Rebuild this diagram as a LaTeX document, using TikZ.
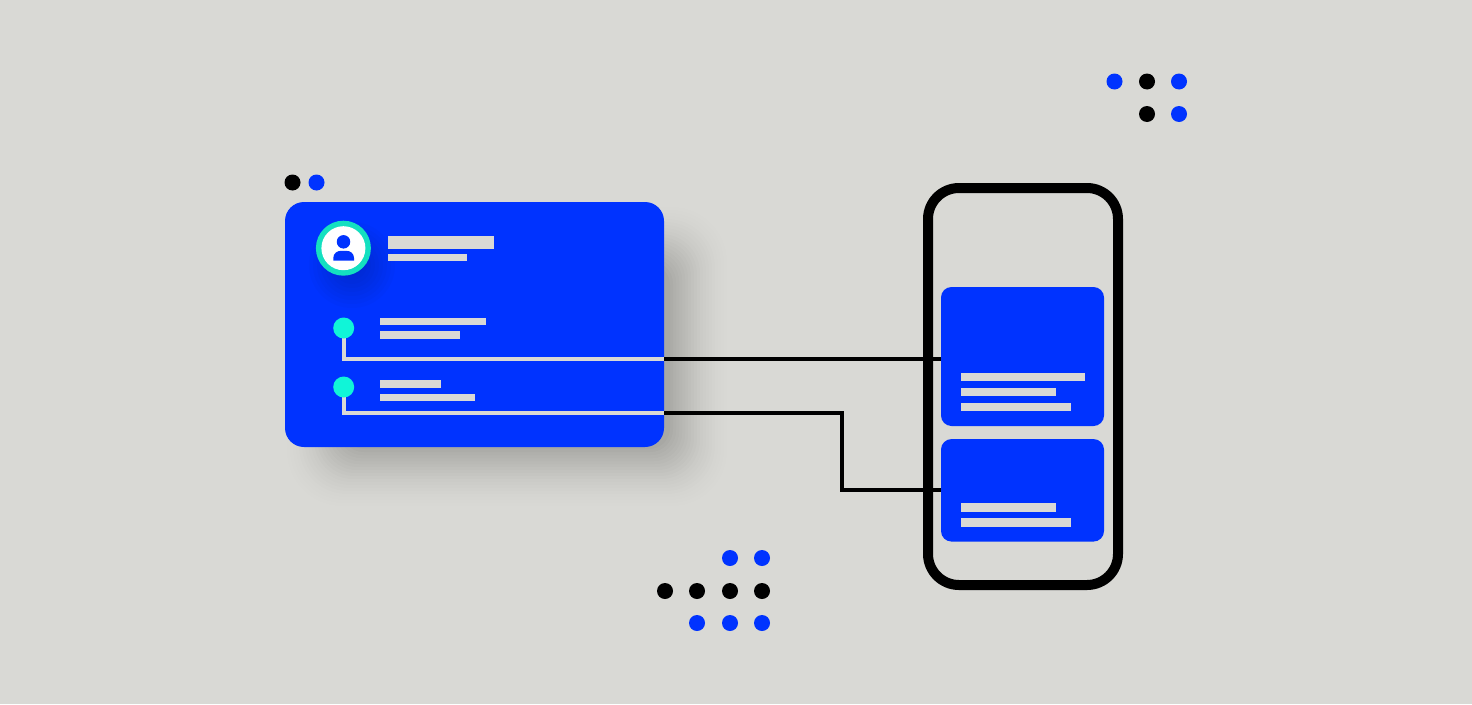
\documentclass[tikz,border=0pt]{standalone}
\usetikzlibrary{positioning}
\definecolor{paper}{HTML}{D9D9D5}
\definecolor{cardblue}{HTML}{0033FF}
\definecolor{mint}{HTML}{10F5D8}
\definecolor{ring}{HTML}{14E0C0}
\tikzset{
  panel/.style={rectangle,fill=cardblue,rounded corners=10.5pt,inner sep=0pt},
  bar/.style={rectangle,fill=paper,inner sep=0pt,anchor=north west},
  spot/.style={circle,inner sep=0pt,minimum size=16pt},
  bluespot/.style={spot,fill=cardblue},
  blackspot/.style={spot,fill=black},
  pin/.style={circle,fill=mint,inner sep=0pt,minimum size=21pt},
  lead/.style={draw=paper,line width=4pt},
  wire/.style={draw=black,line width=4.2pt},
}
\begin{document}
\begin{tikzpicture}[x=1pt,y=-1pt]
      \useasboundingbox (0,0) rectangle (1472,704);
      \fill [paper] (0,0) rectangle (1472,704);

      % soft shadow
      \foreach \s [evaluate=\s as \r using 55-0.6*\s, evaluate=\s as \o using 0.003+0.00028*\s] in {0,3,...,57} {
        \fill [black,opacity=\o,rounded corners=\r pt]
          (287+\s,207+\s) rectangle (727-\s,506-\s);
      }

      \node[panel,rounded corners=19pt,minimum width=379pt,minimum height=245pt] (Card) at (474.5,324.5) {};

      % shadow of the avatar
      \foreach \s in {3,7,...,43} {
        \fill [black!60!cardblue,opacity=0.03] (352,265) circle (\s);
      }

      \node[circle,fill=ring,inner sep=0pt,minimum size=55pt] (Avatar) at (343.4,248.2) {};
      \node[circle,fill=white,inner sep=0pt,minimum size=44pt] (Face) at (Avatar) {};
      \node[circle,fill=cardblue,inner sep=0pt,minimum size=13.5pt] (Head) at (343.5,241.8) {};
      \fill [cardblue] (333.3,260.5) -- (333.3,258) .. controls (333.3,253.5) and (337,250.8) .. (341,250.8)
        -- (346.3,250.8) .. controls (350.5,250.8) and (354,253.5) .. (354,258) -- (354,260.5) -- cycle;

      \node[bar,minimum width=106.5pt,minimum height=13.5pt] (TitleA) at (387.3,235.3) {};
      \node[bar,minimum width=79pt,minimum height=6.5pt] (TitleB) at (387.3,254.2) {};

      \node[bar,minimum width=106pt,minimum height=7.5pt] (RowA) at (379.5,317.5) {};
      \node[bar,minimum width=80.5pt,minimum height=8pt] (RowB) at (379.5,331) {};
      \node[bar,minimum width=61pt,minimum height=7.5pt] (RowC) at (379.5,380) {};
      \node[bar,minimum width=95.5pt,minimum height=7.5pt] (RowD) at (379.5,393.3) {};

      \node[panel,minimum width=163pt,minimum height=139pt] (PanelA) at (1022.5,356.5) {};
      \node[panel,minimum width=163pt,minimum height=102.5pt] (PanelB) at (1022.5,490.3) {};
      \node[draw,line width=10pt,rectangle,rounded corners=31pt,minimum width=190pt,minimum height=397pt,inner sep=0pt] (Phone) at (1023,386.5) {};

      \node[bar,minimum width=123.5pt,minimum height=8.5pt] (LineA) at (961,372.3) {};
      \node[bar,minimum width=95pt,minimum height=8.5pt] (LineB) at (961,387.3) {};
      \node[bar,minimum width=109.5pt,minimum height=8.5pt] (LineC) at (961,402.5) {};
      \node[bar,minimum width=95pt,minimum height=8.5pt] (LineD) at (961,503) {};
      \node[bar,minimum width=109.5pt,minimum height=8.5pt] (LineE) at (961,518) {};

      \coordinate (ExitA) at (Card.east |- 0,359);
      \coordinate (ExitB) at (Card.east |- 0,413);
      \coordinate (BendA) at (842,413);
      \coordinate (BendB) at (842,490);

      \draw [lead] (343.7,328) |- (ExitA);
      \draw [lead] (343.7,387) |- (ExitB);
      \draw [wire] (ExitA)--(ExitA -| PanelA.west);
      \draw [wire] (ExitB)--(BendA)--(BendB)--(BendB -| PanelB.west);

      \node[pin] (PinA) at (343.7,328) {};
      \node[pin] (PinB) at (343.7,387) {};

      \node[blackspot] (SpotA) at (292.5,182.5) {};
      \node[bluespot] (SpotB) at (316.5,182.5) {};

      \node[bluespot] (SpotC) at (1114.5,81.5) {};
      \node[blackspot] (SpotD) at (1147,81.5) {};
      \node[bluespot] (SpotE) at (1179,81.5) {};
      \node[blackspot] (SpotF) at (1147,114) {};
      \node[bluespot] (SpotG) at (1179,114) {};

      \node[bluespot] (SpotH) at (730,558) {};
      \node[bluespot] (SpotI) at (762,558) {};
      \node[blackspot] (SpotJ) at (665,591) {};
      \node[blackspot] (SpotK) at (697,591) {};
      \node[blackspot] (SpotL) at (730,591) {};
      \node[blackspot] (SpotM) at (762,591) {};
      \node[bluespot] (SpotN) at (697,623) {};
      \node[bluespot] (SpotO) at (730,623) {};
      \node[bluespot] (SpotP) at (762,623) {};
    \end{tikzpicture}
\end{document}
